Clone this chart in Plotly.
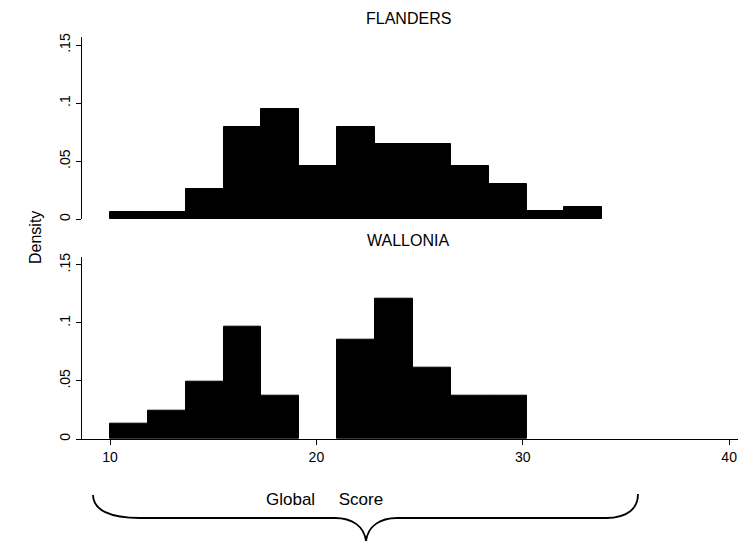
import plotly.graph_objects as go

# ---- data ----
bin_start = 10.0
bin_width = 1.835
flanders_density = [0.0066, 0.0066, 0.0261, 0.0796, 0.0951, 0.0462, 0.0796,
                    0.0652, 0.0652, 0.0460, 0.0304, 0.0069, 0.0106]
wallonia_density = [0.0134, 0.0247, 0.0490, 0.0968, 0.0377, 0.0, 0.0855,
                    0.1208, 0.0617, 0.0377, 0.0377]
panel_titles = ["FLANDERS", "WALLONIA"]
x_tick_vals = [10, 20, 30, 40]
y_tick_vals = [0, 0.05, 0.1, 0.15]
y_tick_text = ["0", ".05", ".1", ".15"]
y_title = "Density"
x_title = "Global     Score"

def centers(n):
    return [bin_start + bin_width * (i + 0.5) for i in range(n)]

W, H = 750, 541
ML, MR, MT, MB = 82, 12, 37, 102
PW, PH = W - ML - MR, H - MT - MB

def px(x):
    return (x - ML) / PW

def py(y):
    return (H - MB - y) / PH

FONT = "Liberation Sans, Arial, sans-serif"

def bar(values, xa, ya):
    return go.Bar(x=centers(len(values)), y=values, width=bin_width,
                  marker=dict(color="black",
                              line=dict(color="black", width=[0 if v == 0 else 1 for v in values])),
                  xaxis=xa, yaxis=ya, showlegend=False, hoverinfo="skip")

fig = go.Figure()
fig.add_trace(bar(flanders_density, "x2", "y2"))
fig.add_trace(bar(wallonia_density, "x", "y"))

xr = [8.643, 40.43]
yr = [0, 0.157]
yax = dict(range=yr, showline=True, linecolor="black", linewidth=1, ticks="outside",
           ticklen=5, tickcolor="black", tickvals=y_tick_vals, ticktext=y_tick_text,
           tickangle=-90, showgrid=False, zeroline=False,
           tickfont=dict(family=FONT, size=14, color="black"))

fig.update_layout(
    width=W, height=H,
    margin=dict(l=ML, r=MR, t=MT, b=MB),
    paper_bgcolor="white", plot_bgcolor="white",
    bargap=0,
    xaxis=dict(domain=[0, 1], range=xr, anchor="y", showline=True, linecolor="black",
               linewidth=1, ticks="outside", ticklen=5, tickcolor="black",
               tickvals=x_tick_vals, showgrid=False, zeroline=False,
               tickfont=dict(family=FONT, size=14, color="black")),
    xaxis2=dict(domain=[0, 1], range=xr, anchor="y2", visible=False),
    yaxis=dict(domain=[0, 0.4535], anchor="x", **yax),
    yaxis2=dict(domain=[0.5465, 1], anchor="x2", **yax),
    font=dict(family=FONT, color="black"),
)

def note(text, x, y, size, angle=0):
    fig.add_annotation(text=text, x=px(x), y=py(y), xref="paper", yref="paper",
                       xanchor="center", yanchor="middle", showarrow=False,
                       textangle=angle, font=dict(size=size, family=FONT, color="black"))

note(panel_titles[0], 408, 18, 16)
note(panel_titles[1], 408, 240, 16)
note(y_title, 35, 238, 16, angle=-90)
note(x_title, 324, 499, 17)

# curly brace under the x axis
pts = [
    ("M", [(93, 495)]),
    ("C", [(93, 510), (110, 518), (140, 518)]),
    ("L", [(335, 518)]),
    ("C", [(352, 518), (364, 526), (366, 541)]),
    ("M", [(366, 541)]),
    ("C", [(368, 526), (380, 518), (397, 518)]),
    ("L", [(606, 518)]),
    ("C", [(628, 518), (638, 508), (638, 494)]),
]
path = " ".join(cmd + " " + " ".join(f"{px(a):.5f},{py(b):.5f}" for a, b in p) for cmd, p in pts)
fig.add_shape(type="path", path=path, xref="paper", yref="paper",
              line=dict(color="black", width=1.8))

fig.write_html("out.html", config={"displayModeBar": False},
               post_script="document.body.style.margin='0';document.body.style.padding='0';")
